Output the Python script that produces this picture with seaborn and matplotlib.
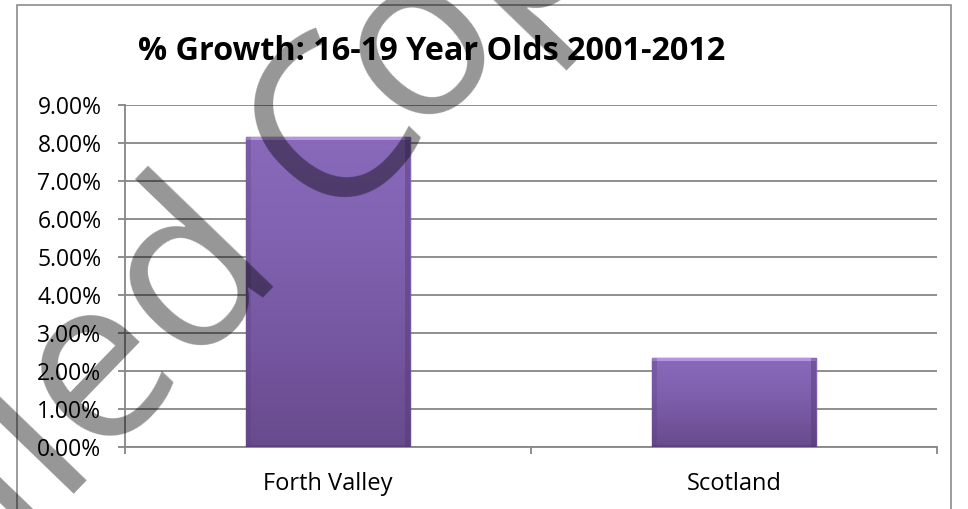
import numpy as np
import pandas as pd
import matplotlib
matplotlib.use("Agg")
import matplotlib.pyplot as plt
import seaborn as sns
from matplotlib.patches import Rectangle
from matplotlib.colors import LinearSegmentedColormap

# Chart data
categories = ["Forth Valley", "Scotland"]
growth_pct = [8.15, 2.34]
y_ticks = [0, 1, 2, 3, 4, 5, 6, 7, 8, 9]
title_text = "% Growth: 16-19 Year Olds 2001-2012"

df = pd.DataFrame({"area": categories, "growth": growth_pct})

sns.set_style("white")
plt.rcParams["font.family"] = ["Open Sans", "DejaVu Sans"]

W, H = 968, 509
fig = plt.figure(figsize=(W / 100, H / 100), dpi=100)

# outer chart frame
fig.patches.append(Rectangle((17 / W, 1 - 512 / H), (951 - 17) / W, (512 - 5) / H,
                             transform=fig.transFigure, fill=False,
                             edgecolor="#8c8c8c", linewidth=1.2))

ax = fig.add_axes([125 / W, 1 - 447 / H, (937 - 125) / W, (447 - 104.7) / H])

grid_col = "#868686"
sns.barplot(data=df, x="area", y="growth", ax=ax, color="#7f5fae",
            width=0.405, saturation=1, zorder=3)

ax.set_ylim(0, 9)
ax.set_xlim(-0.5, 1.5)
ax.set_yticks(y_ticks)
ax.set_yticklabels([f"{v:.2f}%" for v in y_ticks])
ax.yaxis.grid(True, color=grid_col, linewidth=1.3)
ax.set_axisbelow(True)
for s in ["top", "right"]:
    ax.spines[s].set_visible(False)
for s in ["left", "bottom"]:
    ax.spines[s].set_color(grid_col)
    ax.spines[s].set_linewidth(1.3)
ax.set_xlabel("")
ax.set_ylabel("")
ax.tick_params(axis="y", length=5, width=1.3, color=grid_col, pad=12,
               labelsize=16.5, labelcolor="black", left=True)
ax.set_xticks([-0.5, 0.5, 1.5], minor=True)
ax.tick_params(axis="x", which="minor", length=5, width=1.3, color=grid_col, bottom=True)
ax.tick_params(axis="x", which="major", length=0, pad=18, labelsize=17, labelcolor="black")

# glossy gradient fill inside each bar
grad = LinearSegmentedColormap.from_list(
    "bar", ["#684a8d", "#7556a0", "#8162b1", "#8969ba"])
for p in ax.patches:
    x0, y0 = p.get_x(), p.get_y()
    w, h = p.get_width(), p.get_height()
    p.set_edgecolor("#5e437f")
    p.set_linewidth(1.0)
    im = ax.imshow(np.linspace(0, 1, 256).reshape(-1, 1), cmap=grad, aspect="auto",
                   extent=[x0, x0 + w, y0, y0 + h], origin="lower", zorder=3.5,
                   interpolation="bicubic")
    im.set_clip_path(p)
    # light bevel along the top edge
    ax.add_patch(Rectangle((x0, y0 + h - 0.09), w, 0.09, facecolor="#bc9ae8",
                           edgecolor="none", zorder=3.6, alpha=0.9))
    # darker bevels on the sides and bottom
    ax.add_patch(Rectangle((x0, y0), w * 0.03, h, facecolor="#5a3f7c",
                           edgecolor="none", zorder=3.6, alpha=0.3))
    ax.add_patch(Rectangle((x0 + w * 0.97, y0), w * 0.03, h, facecolor="#4e366e",
                           edgecolor="none", zorder=3.6, alpha=0.4))
    ax.add_patch(Rectangle((x0, y0), w, 0.06, facecolor="#4e366e",
                           edgecolor="none", zorder=3.6, alpha=0.4))

fig.text(138 / W, 1 - 60 / H, title_text, fontsize=23.3, fontweight="bold",
         ha="left", va="baseline", color="black")

# document watermark, set in pieces so the letter spacing stays tight
wm_kw = dict(fontsize=165, rotation=46, rotation_mode="anchor", color="black",
             alpha=0.41, va="baseline", ha="left", family=["Open Sans", "DejaVu Sans"],
             zorder=10)
fig.text(282 / W, 1 - 257 / H, "Uncontrolled", **{**wm_kw, "ha": "right"})
fig.text(330 / W, 1 - 225 / H, "C", **wm_kw)
fig.text(415 / W, 1 - 136 / H, "opy", **wm_kw)

fig.savefig("out.png", dpi=100)
